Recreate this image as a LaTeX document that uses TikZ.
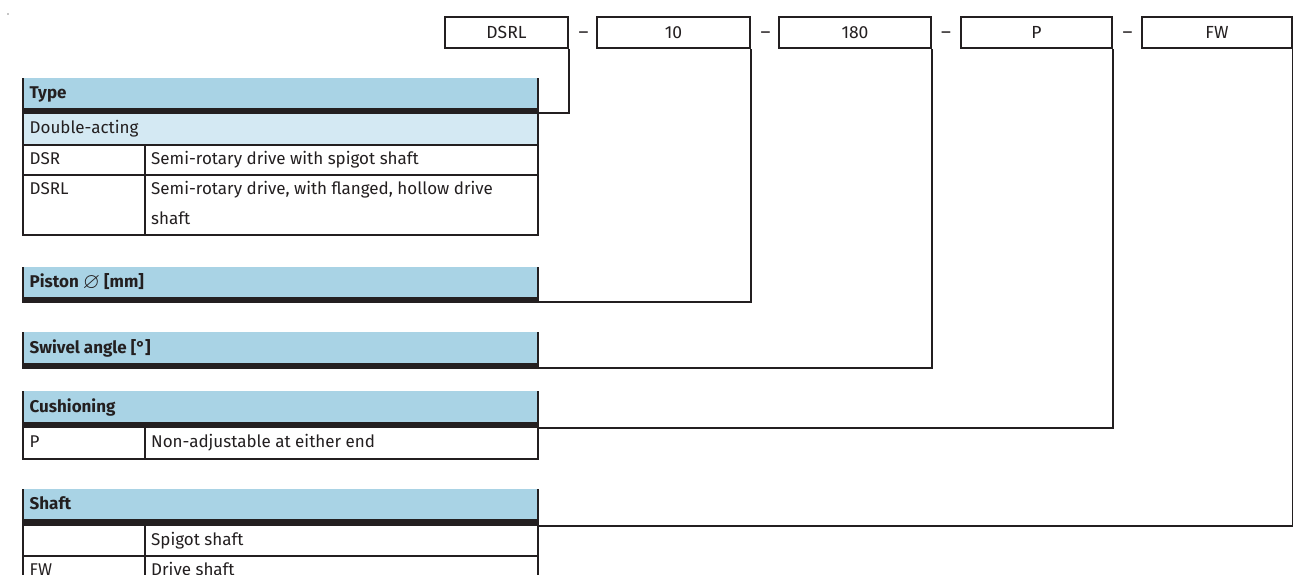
\documentclass[tikz,border=0pt]{standalone}
\usepackage{amssymb}
\usepackage{fontspec}
\setmainfont{Fira Sans}
\definecolor{hdrblue}{HTML}{A9D3E5}
\definecolor{rowblue}{HTML}{D4E9F3}
\definecolor{ink}{HTML}{231F20}
\tikzset{
  lbl/.style={anchor=base west, inner sep=0pt, font=\fontsize{17}{20}\selectfont, text=ink},
  hlbl/.style={lbl, font=\fontsize{17}{20}\selectfont\bfseries},
  codebox/.style={draw=ink, line width=2pt, inner sep=0pt, minimum height=31pt,
    font=\fontsize{17.5}{20}\selectfont, text=ink},
  dashlbl/.style={anchor=base, inner sep=0pt, font=\fontsize{19}{20}\selectfont, text=ink},
  rowline/.style={ink, line width=1.8pt},
  border/.style={ink, line width=2pt},
  bar/.style={fill=ink},
  conn/.style={ink, line width=2pt}
}
\begin{document}
\begin{tikzpicture}[x=1pt,y=-1pt]
\clip (0,0) rectangle (1293,574);
\fill[white] (0,0) rectangle (1293,574);
\fill[gray!45] (7,13) rectangle (9,15);

% ---- top code boxes ----
\node[codebox, minimum width=123pt] (bDSRL) at (506.5,32.5) {DSRL};
\node[codebox, minimum width=153pt] (b10) at (673.5,32.5) {10};
\node[codebox, minimum width=152pt] (b180) at (855,32.5) {180};
\node[codebox, minimum width=151pt] (bP) at (1036.5,32.5) {P};
\node[codebox, minimum width=150pt] (bFW) at (1217,32.5) {FW};
\node[dashlbl] (d1) at (583.5,38) {–};
\node[dashlbl] (d2) at (765.5,38) {–};
\node[dashlbl] (d3) at (946,38) {–};
\node[dashlbl] (d4) at (1127.5,38) {–};

% ---- Type table ----
\fill[hdrblue] (23,78) rectangle (538,108);
\fill[bar] (22,108) rectangle (538.5,114);
\fill[rowblue] (23,114) rectangle (538,145);
\draw[rowline] (22,145) -- (538.5,145);
\draw[rowline] (22,175) -- (538.5,175);
\draw[rowline] (22,235) -- (538.5,235);
\draw[rowline] (145,145) -- (145,235);
\draw[border] (23,78) -- (23,235);
\draw[border] (537.5,78) -- (537.5,235);
\node[hlbl] (tType) at (29.5,98.5) {Type};
\node[lbl] (tDA) at (29.5,133.5) {Double-acting};
\node[lbl] (tDSR) at (29.5,164) {DSR};
\node[lbl] (dDSR) at (151,164) {Semi-rotary drive with spigot shaft};
\node[lbl] (tDSRL) at (29.5,194) {DSRL};
\node[lbl] (dDSRL) at (151,194) {Semi-rotary drive, with flanged, hollow drive};
\node[lbl] (dDSRLb) at (151,224) {shaft};
\coordinate (eType) at (538,113);

% ---- Piston table ----
\fill[hdrblue] (23,267) rectangle (538,297);
\fill[bar] (22,297) rectangle (538.5,303);
\draw[border] (23,267) -- (23,303);
\draw[border] (537.5,267) -- (537.5,303);
\node[hlbl] (tPiston) at (29.5,287.5) {Piston {\mdseries\raisebox{-0.5pt}{\scalebox{1.3}{$\varnothing$}}} [mm]};
\coordinate (ePiston) at (538,302);

% ---- Swivel table ----
\fill[hdrblue] (23,332) rectangle (538,363);
\fill[bar] (22,363) rectangle (538.5,369);
\draw[border] (23,332) -- (23,369);
\draw[border] (537.5,332) -- (537.5,369);
\node[hlbl] (tSwivel) at (29.5,353) {Swivel angle [°]};
\coordinate (eSwivel) at (538,368);

% ---- Cushioning table ----
\fill[hdrblue] (23,391) rectangle (538,422);
\fill[bar] (22,422) rectangle (538.5,428);
\draw[rowline] (22,459) -- (538.5,459);
\draw[rowline] (145,428) -- (145,459);
\draw[border] (23,391) -- (23,459);
\draw[border] (537.5,391) -- (537.5,459);
\node[hlbl] (tCush) at (29.5,412) {Cushioning};
\node[lbl] (tP) at (29.5,447) {P};
\node[lbl] (dP) at (151,447) {Non-adjustable at either end};
\coordinate (eCush) at (538,427.5);

% ---- Shaft table ----
\fill[hdrblue] (23,489) rectangle (538,519);
\fill[bar] (22,519) rectangle (538.5,526);
\draw[rowline] (22,556) -- (538.5,556);
\draw[rowline] (145,526) -- (145,580);
\draw[border] (23,489) -- (23,580);
\draw[border] (537.5,489) -- (537.5,580);
\node[hlbl] (tShaft) at (29.5,509.5) {Shaft};
\node[lbl] (dSpigot) at (151,545) {Spigot shaft};
\node[lbl] (tFW) at (29.5,575) {FW};
\node[lbl] (dFW) at (151,575) {Drive shaft};
\coordinate (eShaft) at (538,525.5);

% ---- connectors ----
\draw[conn] (bDSRL.south east) |- (eType);
\draw[conn] (b10.south east) |- (ePiston);
\draw[conn] (b180.south east) |- (eSwivel);
\draw[conn] (bP.south east) |- (eCush);
\draw[conn] (bFW.south east) |- (eShaft);
\end{tikzpicture}
\end{document}
